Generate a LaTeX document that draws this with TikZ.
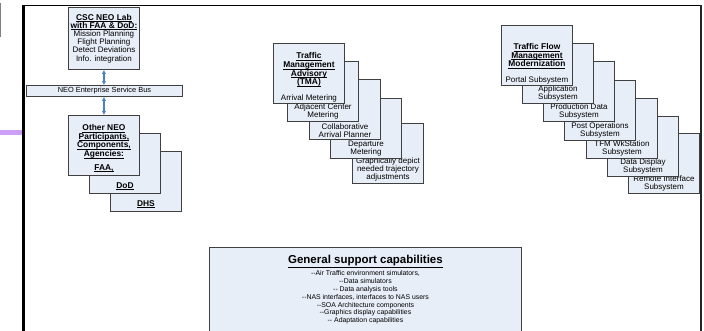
\documentclass[tikz,border=0pt]{standalone}
\usepackage{fontspec}
\setmainfont{Liberation Sans}
\usetikzlibrary{arrows.meta}
\definecolor{cardfill}{RGB}{232,238,248}
\definecolor{linkblue}{RGB}{79,129,189}
\definecolor{tabpurple}{RGB}{204,160,250}
\newcommand{\cardfont}{\fontsize{8}{7.9}\selectfont}
\newcommand{\headfont}{\fontsize{8}{8.7}\selectfont}
\newcommand{\listfont}{\fontsize{6.9}{7.8}\selectfont}
\newcommand{\cardhead}[1]{{\fontsize{8.4}{8.7}\selectfont\bfseries\underline{\smash{#1}\vphantom{A}}}}
\tikzset{
  card/.style={draw=black!75, line width=0.9pt, fill=cardfill, minimum width=71pt, minimum height=60pt, inner sep=0pt, anchor=north west},
  cardtext/.style={font=\cardfont, align=center, inner sep=1pt, anchor=south},
  link/.style={draw=linkblue, line width=1.3pt, {Latex[length=4pt,width=4.5pt]}-{Latex[length=4pt,width=4.5pt]}},
}
\begin{document}
\begin{tikzpicture}[x=1pt, y=-1pt]
\useasboundingbox (0,0) rectangle (704,330);
\clip (0,0) rectangle (704,330);

\fill[draw=none, tabpurple] (0,130) rectangle (22,135);
\draw[gray, line width=1.2pt] (0.6,3) -- (0.6,37);
\draw[black, line width=2.6pt] (23.5,345) -- (23.5,5.3);
\draw[black, line width=1.3pt] (22.2,5.3) -- (702.3,5.3);
\draw[black!85, line width=2.2pt] (701.2,5.3) -- (701.2,345);

% lab, bus and participants
\node[card, minimum height=62pt, font=\fontsize{8}{8.2}\selectfont, align=center] (csc) at (68,7) {\cardhead{CSC NEO Lab}\\\cardhead{with FAA \& DoD:}\\Mission Planning\\Flight Planning\\Detect Deviations\\Info. integration};
\node[card, minimum width=156pt, minimum height=11pt, font=\fontsize{7.4}{8}\selectfont] (bus) at (26,85) {NEO Enterprise Service Bus};
\node[card] (dhs) at (110,151) {};
\node[cardtext] (dhst) at ([yshift=2.5pt]dhs.south) {\cardhead{DHS}};
\node[card] (dod) at (89,133) {};
\node[cardtext] (dodt) at ([yshift=2.5pt]dod.south) {\cardhead{DoD}};
\node[card] (other) at (68,115) {};
\node[cardtext, font=\headfont] (othert) at ([yshift=2.5pt]other.south) {\cardhead{Other NEO}\\\cardhead{Participants,}\\\cardhead{Components,}\\\cardhead{Agencies:}\\[5pt]\cardhead{FAA,}};
\draw[link] (csc.south) -- (csc.south |- bus.north);
\draw[link] (other.north |- bus.south) -- (other.north);

% TMA stack
\node[card] (traj) at (352,123) {};
\node[cardtext] (trajt) at ([yshift=1.5pt]traj.south) {Graphically depict\\needed trajectory\\adjustments};
\node[card] (dep) at (330,98) {};
\node[cardtext] (dept) at ([yshift=1.5pt]dep.south) {Departure\\Metering};
\node[card] (cap) at (309,79) {};
\node[cardtext] (capt) at ([yshift=1.5pt]cap.south) {Collaborative\\Arrival Planner};
\node[card] (adj) at (287,61) {};
\node[cardtext] (adjt) at ([yshift=1.5pt]adj.south) {Adjacent Center\\Metering};
\node[card] (tma) at (273,43) {};
\node[cardtext, font=\headfont] (tmat) at ([yshift=0.5pt]tma.south) {\cardhead{Traffic}\\\cardhead{Management}\\\cardhead{Advisory}\\\cardhead{(TMA)}\\[7pt]Arrival Metering};

% TFM stack
\node[card] (remote) at (628,133) {};
\node[cardtext] (remotet) at ([yshift=1.5pt]remote.south) {Remote Interface\\Subsystem};
\node[card] (disp) at (607,116) {};
\node[cardtext] (dispt) at ([yshift=1.5pt]disp.south) {Data Display\\Subsystem};
\node[card] (wks) at (586,98) {};
\node[cardtext] (wkst) at ([yshift=1.5pt]wks.south) {TFM WkStation\\Subsystem};
\node[card] (post) at (564,80) {};
\node[cardtext] (postt) at ([yshift=1.5pt]post.south) {Post Operations\\Subsystem};
\node[card] (prod) at (543,61) {};
\node[cardtext] (prodt) at ([yshift=1.5pt]prod.south) {Production Data\\Subsystem};
\node[card] (app) at (522,43) {};
\node[cardtext] (appt) at ([yshift=1.5pt]app.south) {Application\\Subsystem};
\node[card] (tfm) at (501,25) {};
\node[cardtext, font=\headfont] (tfmt) at ([yshift=0.5pt]tfm.south) {\cardhead{Traffic Flow}\\\cardhead{Management}\\\cardhead{Modernization}\\[7pt]Portal Subsystem};

% support
\node[card, minimum width=312pt, minimum height=100pt] (gen) at (209,247) {};
\node[font=\fontsize{11.5}{12}\selectfont\bfseries, inner sep=0pt, anchor=north] (gentitle) at ([yshift=-7.5pt]gen.north) {\underline{General support capabilities}};
\node[font=\listfont, align=center, inner sep=0pt, anchor=north] (genlist) at ([yshift=-3pt]gentitle.south) {-{}-Air Traffic environment simulators,\\-{}-Data simulators\\-{}- Data analysis tools\\-{}-NAS interfaces, interfaces to NAS users\\-{}-SOA Architecture components\\-{}-Graphics display capabilities\\-{}- Adaptation capabilities};
\end{tikzpicture}
\end{document}
